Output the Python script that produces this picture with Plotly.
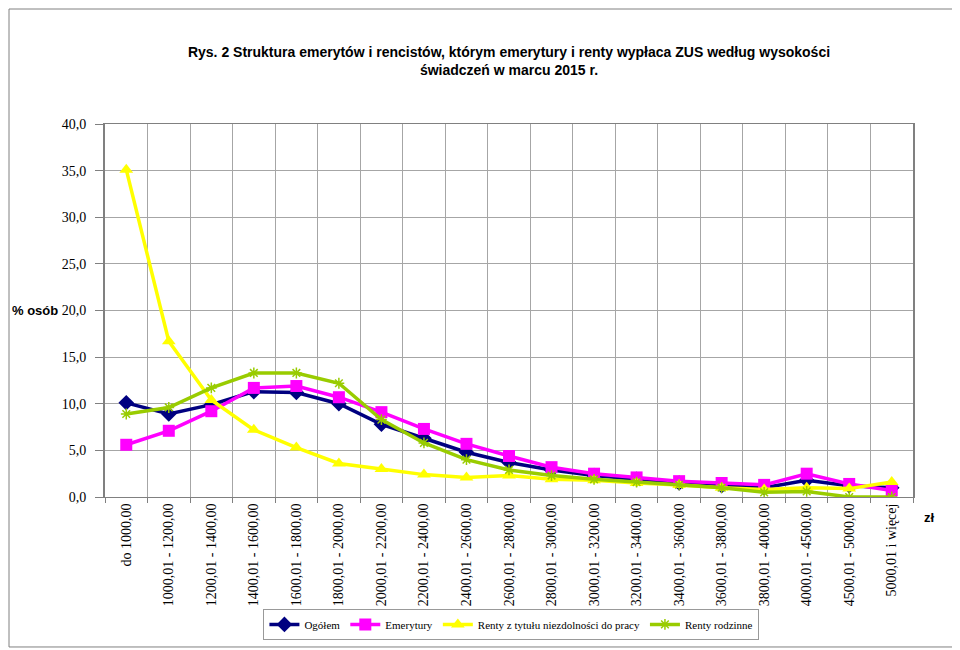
import plotly.graph_objects as go

categories = ["do 1000,00", "1000,01 - 1200,00", "1200,01 - 1400,00", "1400,01 - 1600,00",
              "1600,01 - 1800,00", "1800,01 - 2000,00", "2000,01 - 2200,00", "2200,01 - 2400,00",
              "2400,01 - 2600,00", "2600,01 - 2800,00", "2800,01 - 3000,00", "3000,01 - 3200,00",
              "3200,01 - 3400,00", "3400,01 - 3600,00", "3600,01 - 3800,00", "3800,01 - 4000,00",
              "4000,01 - 4500,00", "4500,01 - 5000,00", "5000,01 i więcej"]

ogolem = [10.1, 8.9, 9.9, 11.3, 11.2, 10.0, 7.8, 6.3, 4.8, 3.7, 2.9, 2.3, 1.9, 1.5, 1.2, 1.0, 1.8, 1.2, 1.0]
emerytury = [5.6, 7.1, 9.2, 11.7, 11.9, 10.7, 9.1, 7.3, 5.7, 4.4, 3.2, 2.5, 2.1, 1.7, 1.5, 1.3, 2.5, 1.4, 0.7]
renty_niezdolnosc = [35.1, 16.7, 10.4, 7.2, 5.3, 3.6, 3.0, 2.4, 2.1, 2.3, 1.9, 1.8, 1.5, 1.3, 1.0, 0.8, 1.0, 0.9, 1.6]
renty_rodzinne = [8.9, 9.6, 11.7, 13.3, 13.3, 12.2, 8.3, 5.8, 4.0, 2.9, 2.3, 1.9, 1.6, 1.3, 1.0, 0.5, 0.6, 0.0, 0.0]

series = [
    ("Ogółem", ogolem, "#000080", "diamond", 12, None),
    ("Emerytury", emerytury, "#FF00FF", "square", 12, None),
    ("Renty z tytułu niezdolności do pracy", renty_niezdolnosc, "#FFFF00", "triangle-up", 12, None),
    ("Renty rodzinne", renty_rodzinne, "#99CC00", "asterisk-open", 9, "#99CC00"),
]

fig = go.Figure()
for name, vals, col, sym, size, lc in series:
    marker = dict(symbol=sym, size=size, color=col)
    if lc:
        marker["line"] = dict(color=lc, width=1.5)
    fig.add_trace(go.Scatter(x=categories, y=vals, name=name, mode="lines+markers",
                             line=dict(color=col, width=3.5), marker=marker))

fig.update_layout(
    width=952, height=642,
    margin=dict(l=97, r=47, t=116, b=153, autoexpand=False),
    paper_bgcolor="white", plot_bgcolor="white",
    separators=", ",
    showlegend=True,
    legend=dict(orientation="h", x=0.503, xanchor="center", y=-0.30, yanchor="top",
                bordercolor="#999999", borderwidth=1,
                font=dict(family="Liberation Serif", size=11, color="black"),
                itemwidth=30, tracegroupgap=0),
    font=dict(family="Liberation Serif", color="black"),
    title=dict(text="Rys. 2 Struktura emerytów i rencistów, którym emerytury i renty wypłaca ZUS według wysokości<br>świadczeń w marcu 2015 r.",
               x=0.5, xref="paper", xanchor="center", y=0.9237, yanchor="middle",
               font=dict(family="Liberation Sans", size=14, color="black", weight="bold")),
)

fig.update_xaxes(type="category", range=[-0.5, len(categories) - 0.5],
                 tickson="boundaries", tickangle=-90, automargin=False,
                 showgrid=True, gridcolor="#A6A6A6", gridwidth=1,
                 showline=True, linecolor="#808080", linewidth=1, mirror=True,
                 ticks="outside", ticklen=5, tickcolor="#808080",
                 tickfont=dict(family="Liberation Serif", size=14, color="black"))
fig.update_yaxes(range=[0, 40], dtick=5, tickformat=".1f", automargin=False,
                 showgrid=True, gridcolor="#A6A6A6", gridwidth=1,
                 showline=True, linecolor="#808080", linewidth=2, mirror=True,
                 ticks="outside", ticklen=8, tickcolor="#808080", zeroline=False,
                 ticklabelstandoff=6,
                 tickfont=dict(family="Liberation Serif", size=14, color="black"))

fig.add_annotation(text="<b>% osób</b>", xref="paper", yref="paper", x=-0.0557, y=0.5,
                   xanchor="right", yanchor="middle", showarrow=False,
                   font=dict(family="Liberation Sans", size=13, color="black"))
fig.add_annotation(text="<b>zł</b>", xref="paper", yref="paper", x=1.021, y=-0.054,
                   xanchor="center", yanchor="middle", showarrow=False,
                   font=dict(family="Liberation Sans", size=13, color="black"))

fig.add_shape(type="rect", xref="paper", yref="paper", x0=-0.1188, x1=1.0545, y0=-0.4021, y1=1.3083,
              line=dict(color="#808080", width=1), fillcolor="rgba(0,0,0,0)", layer="below")

fig.write_html("out.html")
